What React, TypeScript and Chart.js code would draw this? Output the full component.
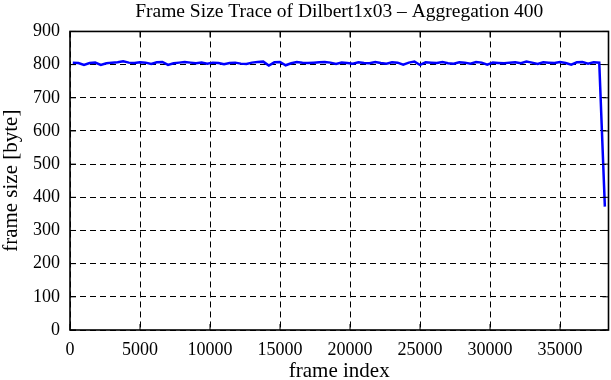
import React, { useEffect, useRef } from 'react';
import { Chart, registerables } from 'chart.js';

Chart.register(...registerables);

const TITLE = 'Frame Size Trace of Dilbert1x03 – Aggregation 400';
const X_LABEL = 'frame index';
const Y_LABEL = 'frame size [byte]';

const xTickValues: number[] = [0, 5000, 10000, 15000, 20000, 25000, 30000, 35000];
const yTickValues: number[] = [0, 100, 200, 300, 400, 500, 600, 700, 800, 900];

const frameIndex: number[] = [
  200, 600, 1000, 1400, 1800, 2200, 2600, 3000, 3400, 3800,
  4200, 4600, 5000, 5400, 5800, 6200, 6600, 7000, 7400, 7800,
  8200, 8600, 9000, 9400, 9800, 10200, 10600, 11000, 11400, 11800,
  12200, 12600, 13000, 13400, 13800, 14200, 14600, 15000, 15400, 15800,
  16200, 16600, 17000, 17400, 17800, 18200, 18600, 19000, 19400, 19800,
  20200, 20600, 21000, 21400, 21800, 22200, 22600, 23000, 23400, 23800,
  24200, 24600, 25000, 25400, 25800, 26200, 26600, 27000, 27400, 27800,
  28200, 28600, 29000, 29400, 29800, 30200, 30600, 31000, 31400, 31800,
  32200, 32600, 33000, 33400, 33800, 34200, 34600, 35000, 35400, 35800,
  36200, 36600, 37000, 37400, 37800, 38200,
];

const frameSize: number[] = [
  806, 805, 799, 805, 806, 799, 804, 806, 807, 810,
  806, 805, 807, 806, 802, 807, 808, 799, 804, 806,
  808, 806, 804, 806, 803, 806, 805, 801, 805, 806,
  803, 802, 806, 808, 809, 797, 807, 808, 798, 804,
  808, 806, 805, 806, 807, 808, 806, 802, 806, 805,
  803, 807, 805, 804, 808, 805, 803, 807, 806, 800,
  806, 809, 799, 807, 806, 805, 808, 804, 803, 807,
  806, 803, 808, 806, 800, 806, 805, 804, 806, 807,
  804, 809, 806, 802, 807, 806, 805, 808, 805, 800,
  807, 808, 803, 807, 806, 372,
];

const FONT = "'Liberation Serif', 'Times New Roman', serif";

const framePlugin = {
  id: 'gnuplotFrame',
  afterDatasetsDraw(chart: any) {
    const { ctx, chartArea: a, scales } = chart;
    const xs = scales.x;
    const ys = scales.y;
    const len = 6;
    ctx.save();
    ctx.strokeStyle = '#000';
    ctx.setLineDash([]);
    ctx.lineWidth = 1;
    ctx.beginPath();
    for (const t of xs.ticks) {
      const px = xs.getPixelForValue(t.value);
      ctx.moveTo(px, a.bottom);
      ctx.lineTo(px, a.bottom - len);
      ctx.moveTo(px, a.top);
      ctx.lineTo(px, a.top + len);
    }
    for (const t of ys.ticks) {
      const py = ys.getPixelForValue(t.value);
      ctx.moveTo(a.left, py);
      ctx.lineTo(a.left + len, py);
      ctx.moveTo(a.right, py);
      ctx.lineTo(a.right - len, py);
    }
    ctx.stroke();
    ctx.lineWidth = 1.6;
    ctx.strokeRect(a.left, a.top, a.right - a.left, a.bottom - a.top);
    ctx.restore();
  },
};

export default function App() {
  const ref = useRef<HTMLCanvasElement | null>(null);

  useEffect(() => {
    if (!ref.current) return;
    const points = frameIndex.map((x, i) => ({ x, y: frameSize[i] }));
    const chart = new Chart(ref.current, {
      type: 'line',
      data: {
        datasets: [
          {
            data: points,
            borderColor: '#0000ff',
            borderWidth: 2.5,
            pointRadius: 0,
            tension: 0,
            fill: false,
          },
        ],
      },
      options: {
        responsive: false,
        animation: false,
        layout: { padding: { left: 0, right: 2.5, top: 0, bottom: 0 } },
        plugins: {
          legend: { display: false },
          tooltip: { enabled: false },
          title: {
            display: true,
            text: TITLE,
            fullSize: false,
            color: '#000',
            font: { family: FONT, size: 19.5, weight: 'normal', lineHeight: 1.1 },
            padding: { top: 1, bottom: 9 },
          },
        },
        scales: {
          x: {
            type: 'linear',
            min: 0,
            max: 38460,
            afterBuildTicks: (scale: any) => {
              scale.ticks = xTickValues.map((v) => ({ value: v }));
            },
            afterFit: (scale: any) => {
              scale.height = 50;
            },
            ticks: {
              color: '#000',
              padding: 9,
              maxRotation: 0,
              autoSkip: false,
              font: { family: FONT, size: 18 },
              callback: (v: any) => String(v),
            },
            grid: {
              color: '#000',
              lineWidth: 1,
              drawTicks: false,
            },
            border: { display: false, dash: [6, 4] },
            title: {
              display: true,
              text: X_LABEL,
              color: '#000',
              font: { family: FONT, size: 21, lineHeight: 0.8 },
              padding: { top: 0, bottom: 0 },
            },
          },
          y: {
            type: 'linear',
            min: 0,
            max: 900,
            afterBuildTicks: (scale: any) => {
              scale.ticks = yTickValues.map((v) => ({ value: v }));
            },
            afterFit: (scale: any) => {
              scale.width = 70;
            },
            ticks: {
              color: '#000',
              padding: 10,
              autoSkip: false,
              font: { family: FONT, size: 18 },
              callback: (v: any) => String(v),
            },
            grid: {
              color: '#000',
              lineWidth: 1,
              drawTicks: false,
            },
            border: { display: false, dash: [6, 4] },
            title: {
              display: true,
              text: Y_LABEL,
              color: '#000',
              font: { family: FONT, size: 21, lineHeight: 1.05 },
              padding: { top: 0, bottom: 0 },
            },
          },
        },
      },
      plugins: [framePlugin],
    });
    return () => chart.destroy();
  }, []);

  return (
    <div style={{ position: 'absolute', left: 0, top: 0, width: 611, height: 380, background: '#fff' }}>
      <canvas ref={ref} width={611} height={380} style={{ display: 'block' }} />
    </div>
  );
}
